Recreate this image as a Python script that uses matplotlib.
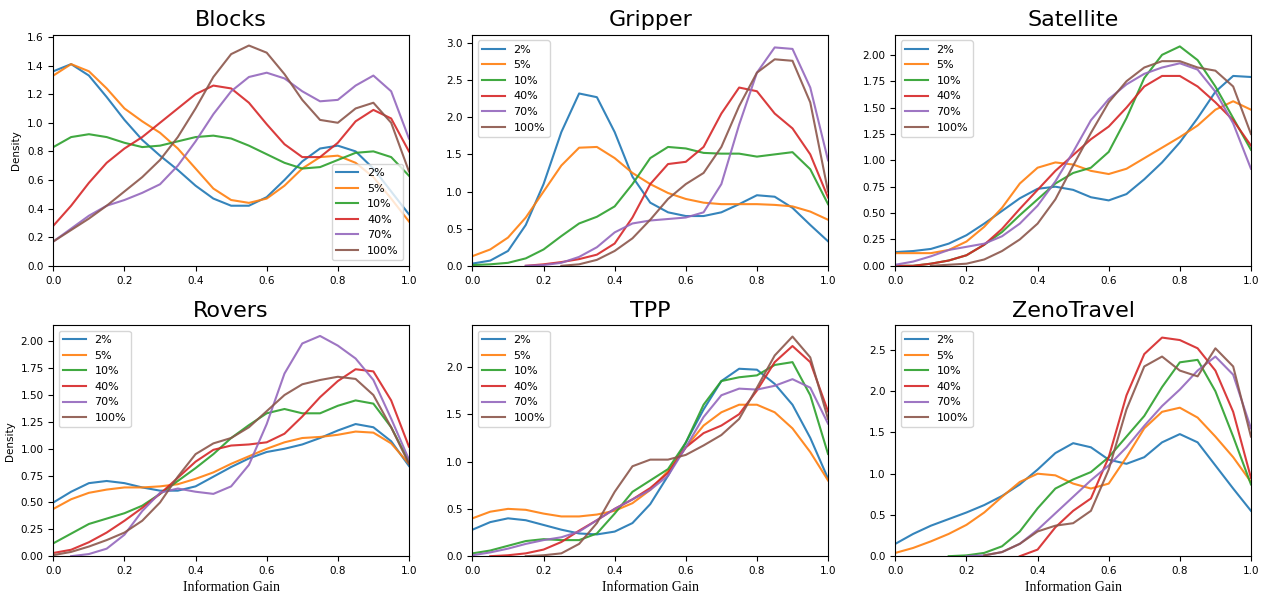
import numpy as np
import matplotlib
matplotlib.use('Agg')
import matplotlib.pyplot as plt

nan = np.nan

# information gain grid the densities were read at
ig = [0.0, 0.05, 0.1, 0.15, 0.2, 0.25, 0.3, 0.35, 0.4, 0.45, 0.5,
      0.55, 0.6, 0.65, 0.7, 0.75, 0.8, 0.85, 0.9, 0.95, 1.0]

labels = ['2%', '5%', '10%', '40%', '70%', '100%']

# Blocks
blocks_2 = [1.36, 1.41, 1.33, 1.18, 1.02, 0.88, 0.77, 0.67, 0.56, 0.47, 0.42, 0.42, 0.48, 0.60, 0.73, 0.82, 0.84, 0.80, 0.68, 0.52, 0.36]
blocks_5 = [1.33, 1.41, 1.36, 1.24, 1.10, 1.01, 0.93, 0.82, 0.68, 0.54, 0.46, 0.44, 0.47, 0.56, 0.68, 0.76, 0.77, 0.72, 0.62, 0.47, 0.31]
blocks_10 = [0.83, 0.90, 0.92, 0.90, 0.86, 0.83, 0.84, 0.87, 0.90, 0.91, 0.89, 0.84, 0.78, 0.72, 0.68, 0.69, 0.74, 0.79, 0.80, 0.76, 0.63]
blocks_40 = [0.28, 0.42, 0.58, 0.72, 0.82, 0.90, 1.00, 1.10, 1.20, 1.26, 1.24, 1.14, 0.99, 0.85, 0.76, 0.76, 0.86, 1.01, 1.09, 1.03, 0.80]
blocks_70 = [0.17, 0.26, 0.35, 0.42, 0.46, 0.51, 0.57, 0.70, 0.87, 1.06, 1.22, 1.32, 1.35, 1.31, 1.22, 1.15, 1.16, 1.26, 1.33, 1.22, 0.89]
blocks_100 = [0.17, 0.25, 0.33, 0.42, 0.52, 0.62, 0.74, 0.90, 1.10, 1.32, 1.48, 1.54, 1.49, 1.34, 1.16, 1.02, 1.00, 1.10, 1.14, 1.00, 0.66]

# Gripper
gripper_2 = [0.03, 0.07, 0.20, 0.55, 1.10, 1.80, 2.32, 2.27, 1.80, 1.20, 0.85, 0.72, 0.67, 0.67, 0.72, 0.83, 0.95, 0.93, 0.78, 0.55, 0.33]
gripper_5 = [0.13, 0.22, 0.38, 0.65, 1.00, 1.35, 1.59, 1.60, 1.45, 1.25, 1.10, 0.98, 0.90, 0.85, 0.83, 0.83, 0.83, 0.82, 0.80, 0.73, 0.62]
gripper_10 = [0.01, 0.02, 0.04, 0.10, 0.22, 0.40, 0.57, 0.66, 0.80, 1.10, 1.45, 1.60, 1.58, 1.52, 1.51, 1.51, 1.47, 1.50, 1.53, 1.30, 0.83]
gripper_40 = [nan, nan, nan, 0.00, 0.02, 0.05, 0.09, 0.15, 0.30, 0.65, 1.10, 1.37, 1.40, 1.60, 2.05, 2.40, 2.35, 2.05, 1.85, 1.50, 0.92]
gripper_70 = [nan, nan, nan, 0.00, 0.01, 0.04, 0.12, 0.25, 0.45, 0.57, 0.61, 0.63, 0.65, 0.72, 1.10, 1.90, 2.60, 2.94, 2.92, 2.40, 1.42]
gripper_100 = [nan, nan, nan, nan, nan, 0.00, 0.02, 0.08, 0.20, 0.37, 0.62, 0.90, 1.10, 1.25, 1.60, 2.15, 2.60, 2.78, 2.76, 2.20, 1.00]

# Satellite
satellite_2 = [0.13, 0.14, 0.16, 0.21, 0.29, 0.40, 0.52, 0.64, 0.73, 0.75, 0.72, 0.65, 0.62, 0.68, 0.82, 0.98, 1.17, 1.40, 1.65, 1.80, 1.79]
satellite_5 = [0.12, 0.12, 0.12, 0.15, 0.23, 0.37, 0.55, 0.78, 0.93, 0.98, 0.96, 0.90, 0.87, 0.92, 1.02, 1.12, 1.22, 1.33, 1.48, 1.56, 1.48]
satellite_10 = [0.00, 0.00, 0.02, 0.05, 0.10, 0.20, 0.32, 0.48, 0.63, 0.78, 0.88, 0.93, 1.08, 1.40, 1.78, 2.00, 2.08, 1.95, 1.70, 1.40, 1.10]
satellite_40 = [0.00, 0.00, 0.02, 0.05, 0.10, 0.20, 0.35, 0.54, 0.72, 0.90, 1.05, 1.20, 1.32, 1.50, 1.70, 1.80, 1.80, 1.70, 1.55, 1.38, 1.14]
satellite_70 = [0.01, 0.04, 0.09, 0.15, 0.18, 0.21, 0.28, 0.40, 0.57, 0.80, 1.08, 1.38, 1.58, 1.72, 1.82, 1.88, 1.92, 1.86, 1.65, 1.35, 0.92]
satellite_100 = [nan, nan, 0.00, 0.01, 0.02, 0.06, 0.14, 0.25, 0.40, 0.63, 0.95, 1.26, 1.55, 1.75, 1.88, 1.94, 1.94, 1.88, 1.85, 1.70, 1.25]

# Rovers
rovers_2 = [0.50, 0.60, 0.68, 0.70, 0.68, 0.64, 0.61, 0.61, 0.65, 0.74, 0.83, 0.91, 0.97, 1.00, 1.04, 1.10, 1.17, 1.23, 1.20, 1.07, 0.84]
rovers_5 = [0.44, 0.53, 0.59, 0.62, 0.64, 0.64, 0.65, 0.67, 0.72, 0.78, 0.86, 0.93, 1.00, 1.06, 1.10, 1.11, 1.13, 1.16, 1.15, 1.05, 0.86]
rovers_10 = [0.12, 0.21, 0.30, 0.35, 0.40, 0.47, 0.58, 0.70, 0.82, 0.95, 1.10, 1.22, 1.33, 1.37, 1.33, 1.33, 1.40, 1.45, 1.42, 1.20, 0.88]
rovers_40 = [0.03, 0.06, 0.13, 0.22, 0.33, 0.45, 0.58, 0.73, 0.88, 0.99, 1.03, 1.04, 1.06, 1.14, 1.30, 1.48, 1.63, 1.74, 1.72, 1.45, 1.02]
rovers_70 = [nan, 0.00, 0.02, 0.07, 0.20, 0.42, 0.59, 0.63, 0.60, 0.58, 0.65, 0.85, 1.23, 1.70, 1.98, 2.05, 1.96, 1.84, 1.64, 1.28, 0.90]
rovers_100 = [0.01, 0.04, 0.09, 0.15, 0.22, 0.33, 0.50, 0.74, 0.95, 1.05, 1.10, 1.20, 1.35, 1.50, 1.60, 1.64, 1.67, 1.65, 1.50, 1.20, 0.86]

# TPP
tpp_2 = [0.28, 0.36, 0.40, 0.38, 0.33, 0.28, 0.24, 0.23, 0.26, 0.35, 0.55, 0.85, 1.20, 1.55, 1.85, 1.98, 1.97, 1.82, 1.60, 1.25, 0.82]
tpp_5 = [0.40, 0.47, 0.50, 0.49, 0.45, 0.42, 0.42, 0.44, 0.48, 0.56, 0.70, 0.90, 1.15, 1.38, 1.52, 1.60, 1.60, 1.52, 1.35, 1.10, 0.80]
tpp_10 = [0.03, 0.06, 0.11, 0.16, 0.18, 0.17, 0.17, 0.24, 0.45, 0.68, 0.80, 0.92, 1.20, 1.60, 1.85, 1.89, 1.91, 2.02, 2.05, 1.70, 1.08]
tpp_40 = [nan, 0.00, 0.01, 0.03, 0.07, 0.15, 0.27, 0.38, 0.50, 0.60, 0.72, 0.88, 1.15, 1.30, 1.38, 1.50, 1.75, 2.05, 2.22, 2.05, 1.53]
tpp_70 = [0.01, 0.04, 0.08, 0.13, 0.17, 0.20, 0.26, 0.38, 0.50, 0.60, 0.70, 0.85, 1.15, 1.47, 1.70, 1.77, 1.76, 1.80, 1.87, 1.78, 1.40]
tpp_100 = [nan, nan, nan, 0.00, 0.01, 0.03, 0.13, 0.35, 0.68, 0.95, 1.02, 1.02, 1.07, 1.17, 1.28, 1.45, 1.78, 2.12, 2.32, 2.10, 1.45]

# ZenoTravel
zeno_2 = [0.15, 0.27, 0.37, 0.45, 0.53, 0.62, 0.73, 0.87, 1.05, 1.25, 1.37, 1.32, 1.17, 1.12, 1.20, 1.38, 1.48, 1.38, 1.10, 0.82, 0.55]
zeno_5 = [0.04, 0.10, 0.18, 0.27, 0.38, 0.53, 0.72, 0.90, 1.00, 0.98, 0.88, 0.82, 0.88, 1.20, 1.55, 1.75, 1.80, 1.68, 1.45, 1.20, 0.90]
zeno_10 = [nan, nan, nan, 0.00, 0.01, 0.04, 0.12, 0.30, 0.58, 0.82, 0.93, 1.02, 1.20, 1.45, 1.70, 2.05, 2.35, 2.38, 2.00, 1.45, 0.87]
zeno_40 = [nan, nan, nan, nan, nan, nan, nan, 0.00, 0.08, 0.35, 0.55, 0.70, 1.20, 1.95, 2.45, 2.65, 2.62, 2.52, 2.25, 1.75, 0.95]
zeno_70 = [nan, nan, nan, nan, 0.00, 0.01, 0.05, 0.15, 0.32, 0.52, 0.72, 0.92, 1.10, 1.32, 1.58, 1.82, 2.02, 2.25, 2.42, 2.20, 1.55]
zeno_100 = [nan, nan, nan, nan, nan, 0.01, 0.05, 0.15, 0.30, 0.37, 0.40, 0.55, 1.05, 1.78, 2.30, 2.42, 2.25, 2.18, 2.52, 2.30, 1.45]

panels = [
    ('Blocks', [blocks_2, blocks_5, blocks_10, blocks_40, blocks_70, blocks_100], 1.615, 'lower right'),
    ('Gripper', [gripper_2, gripper_5, gripper_10, gripper_40, gripper_70, gripper_100], 3.11, 'upper left'),
    ('Satellite', [satellite_2, satellite_5, satellite_10, satellite_40, satellite_70, satellite_100], 2.19, 'upper left'),
    ('Rovers', [rovers_2, rovers_5, rovers_10, rovers_40, rovers_70, rovers_100], 2.15, 'upper left'),
    ('TPP', [tpp_2, tpp_5, tpp_10, tpp_40, tpp_70, tpp_100], 2.44, 'upper left'),
    ('ZenoTravel', [zeno_2, zeno_5, zeno_10, zeno_40, zeno_70, zeno_100], 2.80, 'upper left'),
]

colors = ['#1f77b4', '#ff7f0e', '#2ca02c', '#d62728', '#9467bd', '#8c564b']

fig = plt.figure(figsize=(12.7, 6), dpi=100)
lefts = [0.042, 0.372, 0.705]
bottoms = [0.557, 0.073]
for i, (name, series, ytop, loc) in enumerate(panels):
    row, col = divmod(i, 3)
    ax = fig.add_axes([lefts[col], bottoms[row], 0.280, 0.385])
    for vals, lab, c in zip(series, labels, colors):
        ax.plot(ig, vals, color=c, lw=1.5, alpha=0.9, label=lab)
    ax.set_xlim(0, 1)
    ax.set_ylim(0, ytop)
    ax.set_title(name, fontsize=16)
    ax.tick_params(labelsize=7.5)
    ax.legend(loc=loc, fontsize=8)
    if col == 0:
        ax.set_ylabel('Density', fontsize=7.5)
    if row == 1:
        ax.set_xlabel('Information Gain', fontsize=10, family='Liberation Serif')

fig.savefig('out.png', dpi=100)
